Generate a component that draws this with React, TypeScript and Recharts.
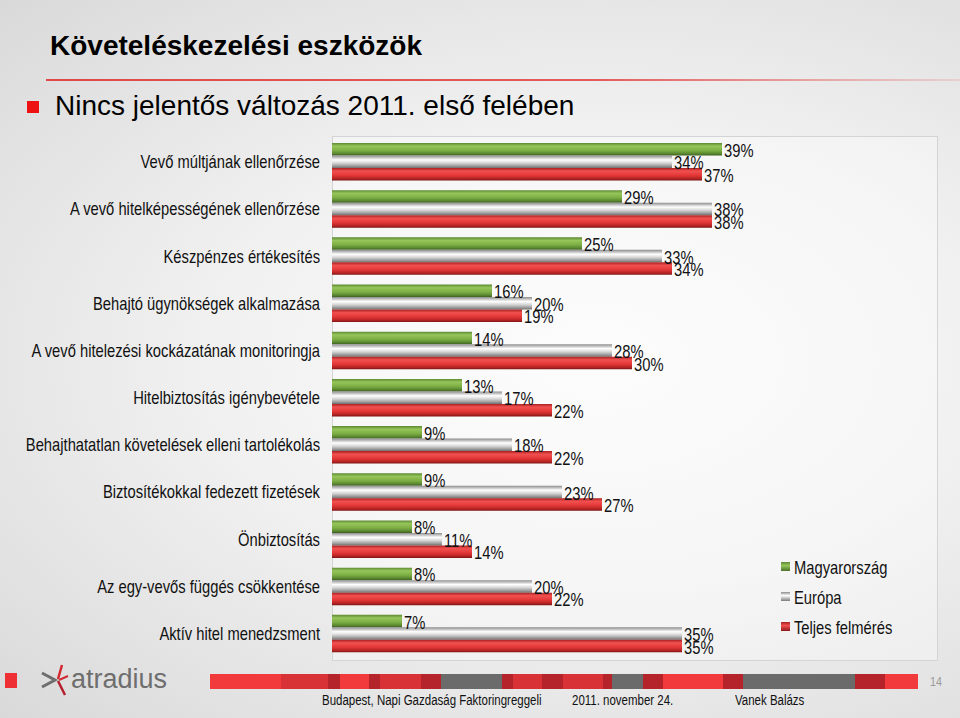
import React from "react";
import { BarChart, Bar, XAxis, YAxis, LabelList } from "recharts";

const categories = [
  "Vevő múltjának ellenőrzése",
  "A vevő hitelképességének ellenőrzése",
  "Készpénzes értékesítés",
  "Behajtó ügynökségek alkalmazása",
  "A vevő hitelezési kockázatának monitoringja",
  "Hitelbiztosítás igénybevétele",
  "Behajthatatlan követelések elleni tartolékolás",
  "Biztosítékokkal fedezett fizetések",
  "Önbiztosítás",
  "Az egy-vevős függés csökkentése",
  "Aktív hitel menedzsment",
];
const magyarorszag = [39, 29, 25, 16, 14, 13, 9, 9, 8, 8, 7];
const europa = [34, 38, 33, 20, 28, 17, 18, 23, 11, 20, 35];
const teljes = [37, 38, 34, 19, 30, 22, 22, 27, 14, 22, 35];
const seriesNames = ["Magyarország", "Európa", "Teljes felmérés"];

const data = categories.map((name, i) => ({
  name,
  hu: magyarorszag[i],
  eu: europa[i],
  all: teljes[i],
}));

const SANS = '"Liberation Sans", Arial, sans-serif';
const NARROW_SCALE = 0.82;

const stripSegments: [number, number, string][] = [
  [210, 281, "#f2393b"], [281, 328, "#d83236"], [328, 340, "#b5242a"], [340, 369, "#f2393b"],
  [369, 380, "#b5242a"], [380, 421, "#d83236"], [421, 441, "#b5242a"], [441, 502, "#6b6b6b"],
  [502, 513, "#b5242a"], [513, 542, "#d83236"], [542, 563, "#b5242a"], [563, 603, "#d83236"],
  [603, 612, "#b5242a"], [612, 643, "#6b6b6b"], [643, 663, "#b5242a"], [663, 723, "#f2393b"],
  [723, 743, "#b5242a"], [743, 855, "#6b6b6b"], [855, 885, "#b5242a"], [885, 918, "#f2393b"],
];

const ValueLabel = (props: any) => {
  const { x, y, width, height, value } = props;
  const tx = Number(x) + Number(width) + 2;
  const ty = Number(y) + Number(height) / 2 + 1;
  return (
    <text
      transform={`translate(${tx} ${ty}) scale(${NARROW_SCALE} 1)`}
      x={0}
      y={0}
      dominantBaseline="central"
      fontFamily={SANS}
      fontSize={18}
      fill="#111"
    >
      {value}%
    </text>
  );
};

const CatTick = (props: any) => {
  const { x, y, payload } = props;
  return (
    <text
      transform={`translate(${x} ${y}) scale(${NARROW_SCALE} 1)`}
      x={0}
      y={0}
      textAnchor="end"
      dominantBaseline="central"
      fontFamily={SANS}
      fontSize={18}
      fill="#111"
    >
      {payload.value}
    </text>
  );
};

const Narrow = ({ left, top, size, color, children }: any) => (
  <div
    style={{
      position: "absolute",
      left,
      top,
      fontSize: size,
      color,
      fontFamily: SANS,
      whiteSpace: "nowrap",
      transform: `scaleX(${NARROW_SCALE})`,
      transformOrigin: "left top",
    }}
  >
    {children}
  </div>
);

export default function App() {
  return (
    <div
      style={{
        position: "absolute",
        left: 0,
        top: 0,
        width: 960,
        height: 718,
        overflow: "hidden",
        background:
          "radial-gradient(ellipse at 62% 50%, #fbfbfb 0%, #f1f1f1 45%, #e2e2e2 80%, #d9d9d9 100%)",
        fontFamily: SANS,
      }}
    >
      {/* Title */}
      <div style={{ position: "absolute", left: 50, top: 30, fontSize: 28, fontWeight: "bold", color: "#000", whiteSpace: "nowrap" }}>
        Követeléskezelési eszközök
      </div>
      <div
        style={{
          position: "absolute",
          left: 46,
          top: 79,
          width: 914,
          height: 2,
          background: "linear-gradient(to right, #e04848 0%, #e45a5a 60%, rgba(230,120,120,0.2) 100%)",
        }}
      />
      <div style={{ position: "absolute", left: 27, top: 101, width: 12, height: 12, background: "#ee1111" }} />
      <div style={{ position: "absolute", left: 55, top: 90, fontSize: 28, color: "#000", whiteSpace: "nowrap" }}>
        Nincs jelentős változás 2011. első felében
      </div>

      {/* Plot frame */}
      <div
        style={{
          position: "absolute",
          left: 332,
          top: 136,
          width: 604,
          height: 523,
          border: "1px solid #d4d4d4",
          background: "rgba(255,255,255,0.35)",
        }}
      />

      <div style={{ position: "absolute", left: 0, top: 0 }}>
        <BarChart
          width={960}
          height={718}
          data={data}
          layout="vertical"
          margin={{ top: 138, right: 23, bottom: 61, left: 0 }}
          barGap={0}
          barSize={12.5}
        >
          <defs>
            <linearGradient id="gGreen" x1="0" y1="0" x2="0" y2="1">
              <stop offset="0%" stopColor="#5d8a33" />
              <stop offset="25%" stopColor="#96c55a" />
              <stop offset="60%" stopColor="#7cae44" />
              <stop offset="85%" stopColor="#5a8730" />
              <stop offset="100%" stopColor="#3d5f20" />
            </linearGradient>
            <linearGradient id="gGray" x1="0" y1="0" x2="0" y2="1">
              <stop offset="0%" stopColor="#8c8c8c" />
              <stop offset="35%" stopColor="#ffffff" />
              <stop offset="60%" stopColor="#d6d6d6" />
              <stop offset="85%" stopColor="#9a9a9a" />
              <stop offset="100%" stopColor="#6e6e6e" />
            </linearGradient>
            <linearGradient id="gRed" x1="0" y1="0" x2="0" y2="1">
              <stop offset="0%" stopColor="#a82020" />
              <stop offset="25%" stopColor="#f25050" />
              <stop offset="60%" stopColor="#e23636" />
              <stop offset="85%" stopColor="#b52424" />
              <stop offset="100%" stopColor="#7e1414" />
            </linearGradient>
          </defs>
          <XAxis type="number" domain={[0, 60.5]} hide />
          <YAxis
            type="category"
            dataKey="name"
            width={332}
            axisLine={false}
            tickLine={false}
            tickSize={0}
            tickMargin={12}
            interval={0}
            tick={<CatTick />}
          />
          <Bar dataKey="hu" name={seriesNames[0]} fill="url(#gGreen)" isAnimationActive={false}>
            <LabelList dataKey="hu" content={<ValueLabel />} />
          </Bar>
          <Bar dataKey="eu" name={seriesNames[1]} fill="url(#gGray)" isAnimationActive={false}>
            <LabelList dataKey="eu" content={<ValueLabel />} />
          </Bar>
          <Bar dataKey="all" name={seriesNames[2]} fill="url(#gRed)" isAnimationActive={false}>
            <LabelList dataKey="all" content={<ValueLabel />} />
          </Bar>
        </BarChart>
      </div>

      {/* Legend */}
      <svg style={{ position: "absolute", left: 770, top: 550 }} width={170} height={95}>
        <defs>
          <linearGradient id="lgGreen" x1="0" y1="0" x2="0" y2="1">
            <stop offset="0%" stopColor="#5d8a33" />
            <stop offset="40%" stopColor="#96c55a" />
            <stop offset="100%" stopColor="#4a7228" />
          </linearGradient>
          <linearGradient id="lgGray" x1="0" y1="0" x2="0" y2="1">
            <stop offset="0%" stopColor="#8c8c8c" />
            <stop offset="40%" stopColor="#ffffff" />
            <stop offset="100%" stopColor="#7a7a7a" />
          </linearGradient>
          <linearGradient id="lgRed" x1="0" y1="0" x2="0" y2="1">
            <stop offset="0%" stopColor="#a82020" />
            <stop offset="40%" stopColor="#f25050" />
            <stop offset="100%" stopColor="#8e1818" />
          </linearGradient>
        </defs>
        {seriesNames.map((s, i) => (
          <g key={s}>
            <rect x={11} y={12 + i * 30} width={9} height={9} fill={["url(#lgGreen)", "url(#lgGray)", "url(#lgRed)"][i]} />
            <text
              transform={`translate(24 ${17 + i * 30}) scale(${NARROW_SCALE} 1)`}
              x={0}
              y={0}
              dominantBaseline="central"
              fontFamily={SANS}
              fontSize={18}
              fill="#111"
            >
              {s}
            </text>
          </g>
        ))}
      </svg>

      {/* Footer */}
      <div style={{ position: "absolute", left: 5, top: 673, width: 12, height: 15, background: "#ee3035" }} />
      <svg style={{ position: "absolute", left: 38, top: 662 }} width={34} height={36}>
        <polyline points="4,11 17,18 4,25" fill="none" stroke="#6e6e6e" strokeWidth={3} />
        <line x1={20} y1={17} x2={24} y2={3} stroke="#d22a30" strokeWidth={2.5} />
        <line x1={20} y1={19} x2={27} y2={33} stroke="#b52030" strokeWidth={2.5} />
        <line x1={21} y1={18} x2={30} y2={14} stroke="#d22a30" strokeWidth={2} />
      </svg>
      <div style={{ position: "absolute", left: 71, top: 664, fontSize: 27, color: "#6e6e6e", whiteSpace: "nowrap" }}>
        atradius
      </div>
      {stripSegments.map(([a, b, c], i) => (
        <div key={i} style={{ position: "absolute", left: a, top: 674, width: b - a, height: 15, background: c }} />
      ))}
      <Narrow left={930} top={674} size={13} color="#9a9a9a">14</Narrow>
      <Narrow left={322} top={692} size={14} color="#111">Budapest, Napi Gazdaság Faktoringreggeli</Narrow>
      <Narrow left={572} top={692} size={14} color="#111">2011. november 24.</Narrow>
      <Narrow left={735} top={692} size={14} color="#111">Vanek Balázs</Narrow>
    </div>
  );
}
